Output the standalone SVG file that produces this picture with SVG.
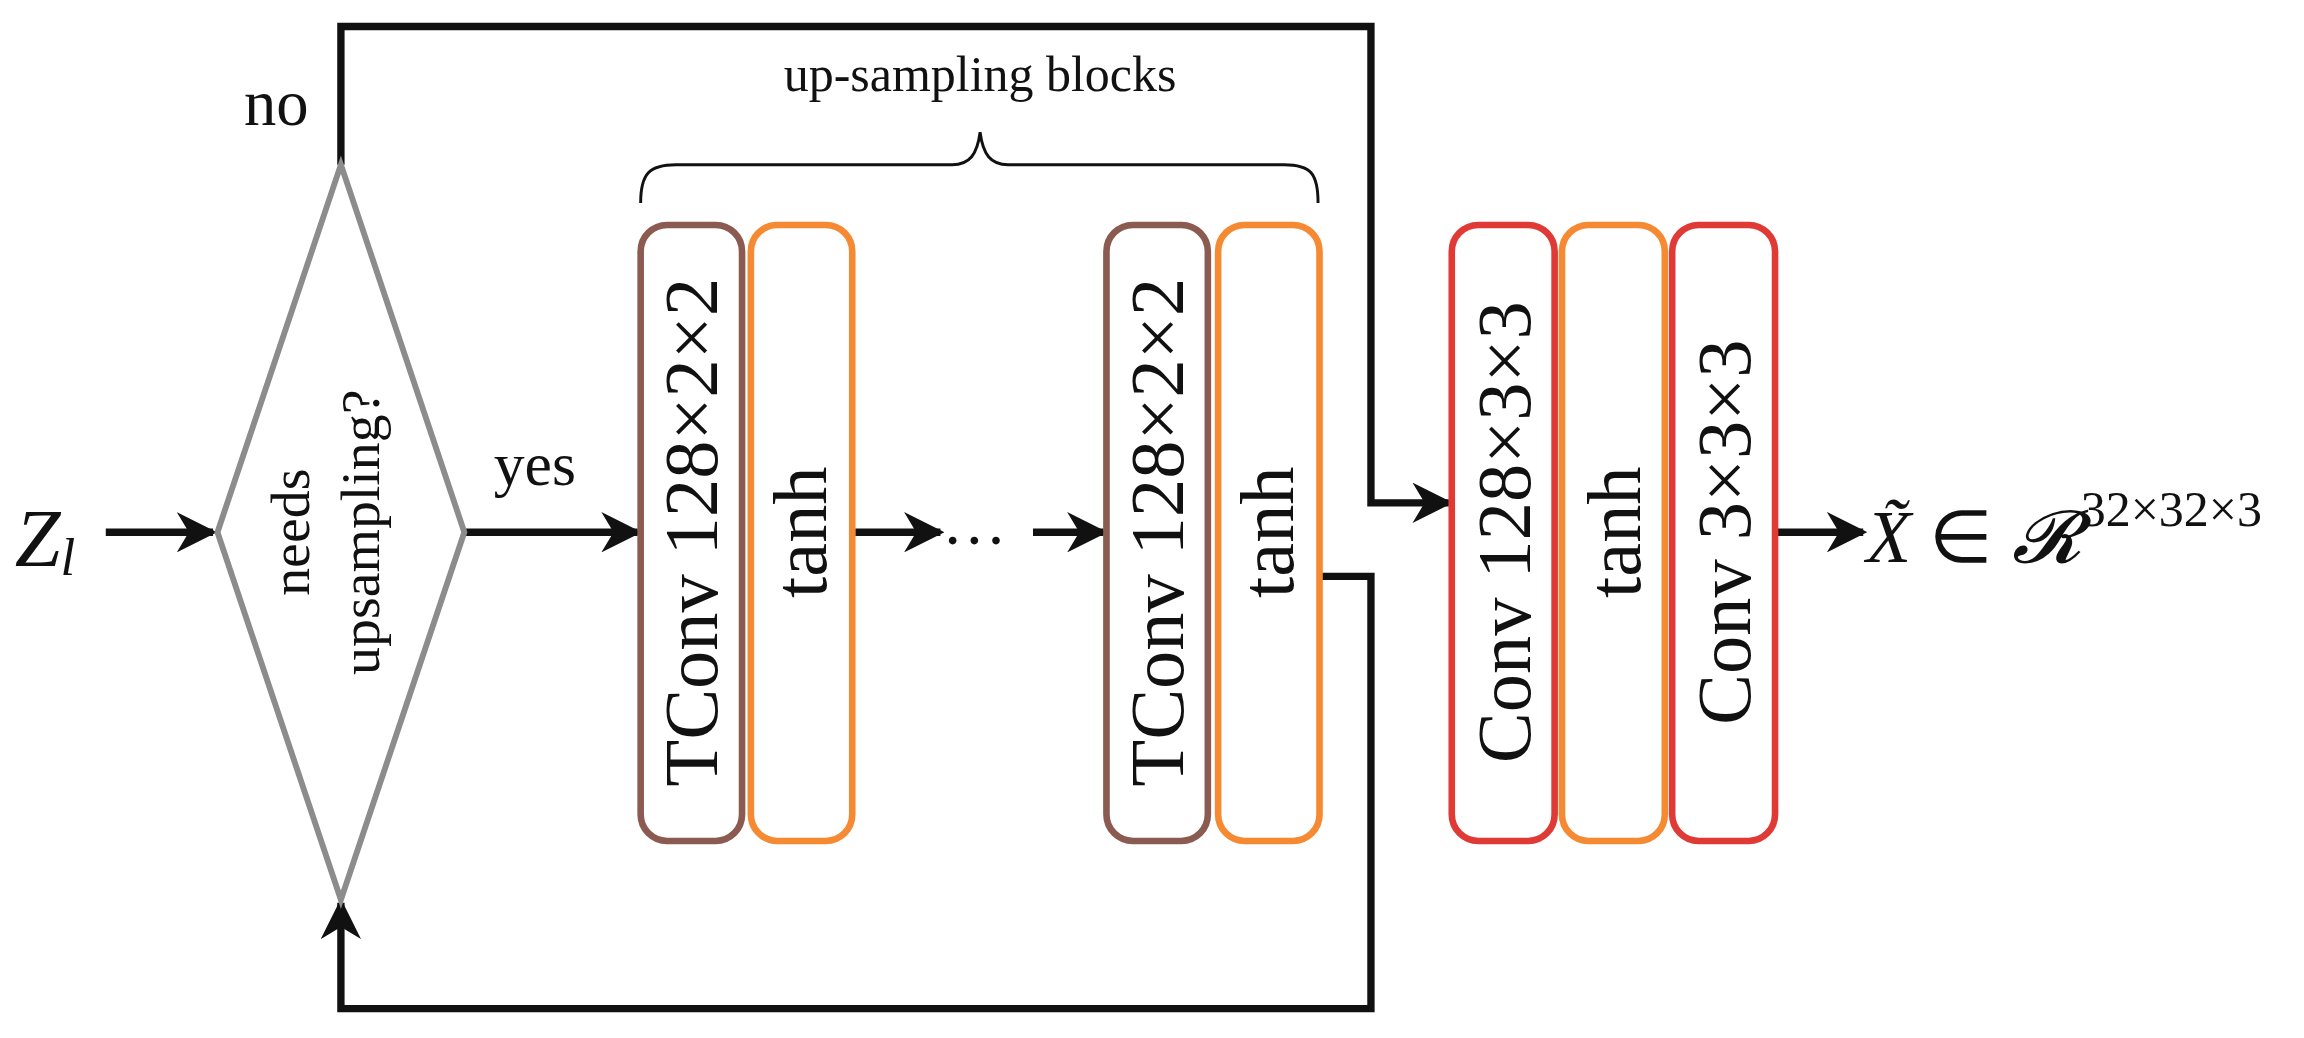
<svg xmlns="http://www.w3.org/2000/svg" width="2304" height="1038" viewBox="0 0 2304 1038">
<style>
.t{font-family:"Liberation Serif",serif;fill:#111}
.bx{fill:#fff;stroke-width:4.5}
.ln{fill:none;stroke:#111;stroke-width:5}
</style>
<defs><marker id="a" viewBox="0 0 10 10" refX="9" refY="5" markerWidth="5.5" markerHeight="5.5" orient="auto" markerUnits="strokeWidth"><path d="M0,0L10,5L0,10L3,5z" fill="#111"/></marker></defs>
<rect width="2304" height="1038" fill="#fff"/>
<g transform="scale(1.4694,1.4702)">
<g id="connectors">
<path class="ln" d="M232,112V18H933V342H986" marker-end="url(#a)"/>
<path class="ln" d="M898,392H933V686H232V614" marker-end="url(#a)"/>
<path class="ln" d="M72,362H145" marker-end="url(#a)"/>
<path class="ln" d="M316,362H434" marker-end="url(#a)"/>
<path class="ln" d="M582,362H640" marker-end="url(#a)"/>
<path class="ln" d="M703,362H751" marker-end="url(#a)"/>
<path class="ln" d="M1210,362H1268" marker-end="url(#a)"/>
<path d="M436,138C436,118 442,112 460,112H648C660,112 665,105 667,90C669,105 674,112 686,112H874C892,112 897,118 897,138" fill="none" stroke="#111" stroke-width="2"/>
</g>
<g id="decision"><polygon points="232,112 316,362 232,612 148,362" fill="#fff" stroke="#8c8c8c" stroke-width="4"/>
<text class="t" font-size="38" transform="translate(210,362) rotate(-90)" text-anchor="middle">needs</text>
<text class="t" font-size="38" transform="translate(258,362) rotate(-90)" text-anchor="middle">upsampling?</text></g>
<g id="labels">
<text class="t" x="188" y="85" font-size="44" text-anchor="middle">no</text>
<text class="t" x="364" y="330" font-size="42" text-anchor="middle">yes</text>
<text class="t" x="667" y="62" font-size="34" text-anchor="middle">up-sampling blocks</text>
<text class="t" x="10" y="385" font-size="56" font-style="italic">Z<tspan font-size="36" dy="6">l</tspan></text>
<text class="t" x="663" y="370" font-size="44" text-anchor="middle">…</text>
<text class="t" x="1270" y="382" font-size="50"><tspan font-style="italic">X̃</tspan> ∈ <tspan font-style="italic">𝓡</tspan><tspan font-size="34" dy="-24">32×32×3</tspan></text>
</g>
<g id="tconv1"><rect class="bx" x="436" y="153" width="69" height="419" rx="18" stroke="#8b5a50"/><text class="t" font-size="52" transform="translate(488,362) rotate(-90)" text-anchor="middle">TConv 128×2×2</text></g>
<g id="tanh1"><rect class="bx" x="511" y="153" width="69" height="419" rx="18" stroke="#f58a33"/><text class="t" font-size="52" transform="translate(562,362) rotate(-90)" text-anchor="middle">tanh</text></g>
<g id="tconv2"><rect class="bx" x="753" y="153" width="69" height="419" rx="18" stroke="#8b5a50"/><text class="t" font-size="52" transform="translate(805,362) rotate(-90)" text-anchor="middle">TConv 128×2×2</text></g>
<g id="tanh2"><rect class="bx" x="829" y="153" width="69" height="419" rx="18" stroke="#f58a33"/><text class="t" font-size="52" transform="translate(880,362) rotate(-90)" text-anchor="middle">tanh</text></g>
<g id="conv1"><rect class="bx" x="988" y="153" width="70" height="419" rx="18" stroke="#e03a36"/><text class="t" font-size="52" transform="translate(1041,362) rotate(-90)" text-anchor="middle">Conv 128×3×3</text></g>
<g id="tanh3"><rect class="bx" x="1063" y="153" width="70" height="419" rx="18" stroke="#f58a33"/><text class="t" font-size="52" transform="translate(1116,362) rotate(-90)" text-anchor="middle">tanh</text></g>
<g id="conv2"><rect class="bx" x="1138" y="153" width="70" height="419" rx="18" stroke="#e03a36"/><text class="t" font-size="52" transform="translate(1191,362) rotate(-90)" text-anchor="middle">Conv 3×3×3</text></g>
</g>
</svg>
